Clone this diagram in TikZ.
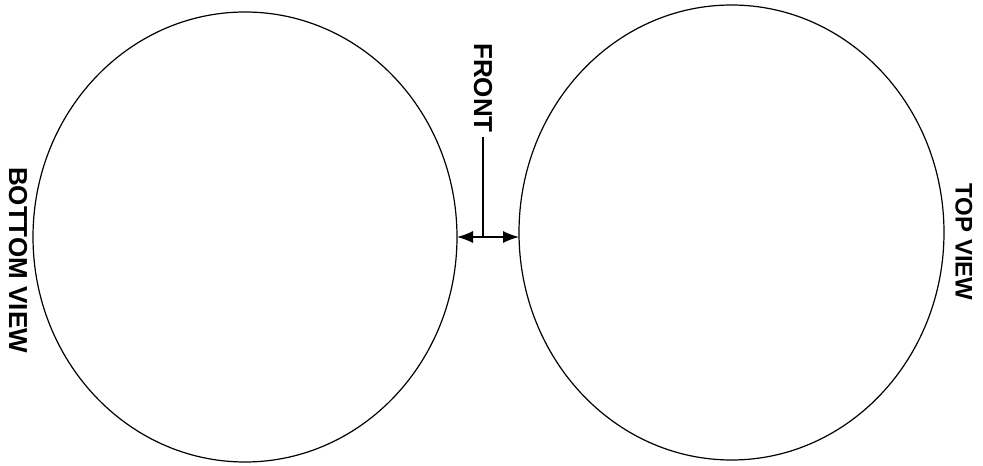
\documentclass[tikz,border=0pt]{standalone}
\usepackage{fontspec}
\setmainfont{Liberation Sans}
\usetikzlibrary{shapes.geometric,arrows.meta}
\tikzset{
  view/.style={ellipse, draw, line width=1.2pt, inner sep=0pt, outer sep=0pt},
  lbl/.style={font=\bfseries\fontsize{26}{30}\selectfont, rotate=-90, inner sep=4pt},
  conn/.style={line width=1.3pt},
  dimarrow/.style={conn, {Latex[length=16pt,width=12pt]}-{Latex[length=16pt,width=12pt]}}
}
\begin{document}
\begin{tikzpicture}[x=1pt,y=1pt]
\useasboundingbox (0,0) rectangle (983,466);
\node[view, minimum width=424pt, minimum height=450pt] (bottom) at (245,229) {};
\node[view, minimum width=425pt, minimum height=455pt] (top) at (731.5,233.5) {};
\node[lbl] (bl) at (18,206) {BOTTOM VIEW};
\node[lbl, font=\bfseries\fontsize{24}{28}\selectfont] (tl) at (964,224) {TOP VIEW};
\node[lbl] (front) at (483,378) {FRONT};
\draw[dimarrow] (bottom.east) -- (bottom.east -| top.west);
\draw[conn] (front.east) -- (front.east |- bottom.east);
\end{tikzpicture}
\end{document}
